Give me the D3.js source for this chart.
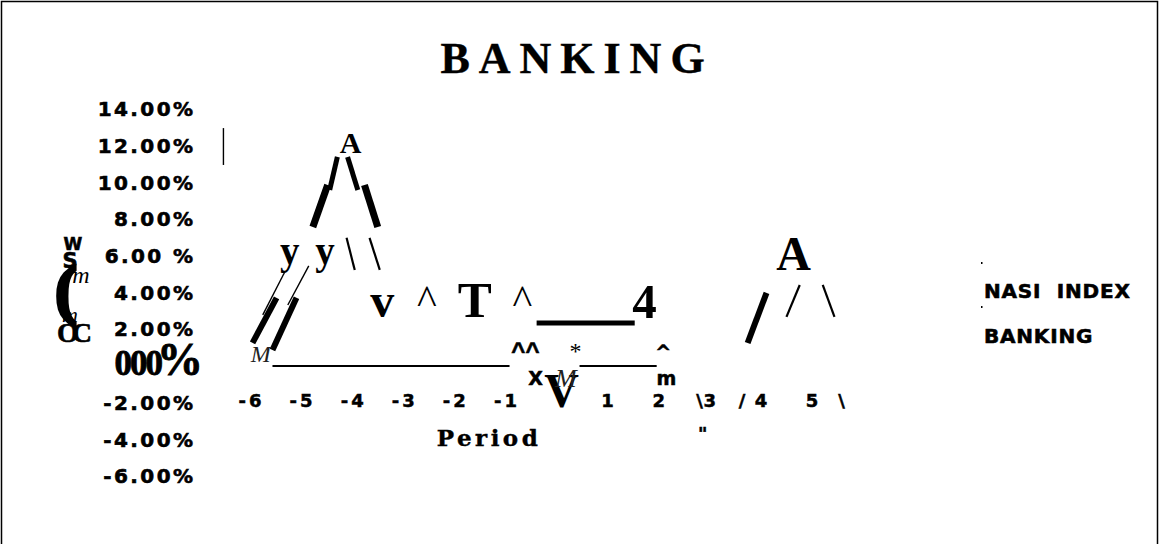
<!DOCTYPE html>
<html><head><meta charset="utf-8">
<script src="https://cdn.jsdelivr.net/npm/d3@7"></script>
<style>body{margin:0;background:#fff} svg{display:block}</style>
</head><body><svg id="c" width="1159" height="544"></svg>
<script>
// ---------- data ----------
const title = "BANKING";
const xTitle = "Period";
const yTickValues = [14, 12, 10, 8, 6, 4, 2, 0, -2, -4, -6];
const yTickLabels = ["14.00%", "12.00%", "10.00%", "8.00%", "6.00 %", "4.00%", "2.00%", "000%", "-2.00%", "-4.00%", "-6.00%"];
const xTickValues = [-6, -5, -4, -3, -2, -1, 1, 2, 3, 4, 5];
const xTickLabels = ["-6", "-5", "-4", "-3", "-2", "-1", "1", "2", "3", "4", "5"];
const legendLabels = ["NASI INDEX", "BANKING"];
// zero-line pieces (period from, period to), value 0%
const zeroFrom = [-5.56, 0.45];
const zeroTo = [-0.92, 1.96];
// stroke pieces of the (garbled) series: period/value pairs
const segP1 = [-4.29, -4.09, -4.48, -3.76, -4.11, -3.66, -5.32, -5.48, -4.85, -5.09, 4.11, 4.76, 5.21, -0.39, -6.52];
const segV1 = [11.39, 11.39, 9.86, 9.86, 6.98, 6.98, 5.12, 3.71, 5.45, 3.71, 3.98, 4.41, 4.41, 2.34, 12.96];
const segP2 = [-4.44, -3.89, -4.77, -3.50, -3.95, -3.46, -5.75, -5.95, -5.26, -5.56, 3.74, 4.50, 5.44, 1.53, -6.52];
const segV2 = [9.59, 9.59, 7.57, 7.57, 5.23, 5.23, 2.78, 1.25, 3.32, 0.87, 1.25, 2.67, 2.67, 2.34, 10.95];
const segKind = ["t5", "t5", "t7", "t7", "n2", "n2", "n1", "t6", "n1", "t6", "t6", "n2", "n2", "t5", "n1"];
// glyph marks of the series: text, period, value
const glyphText = ["A", "y y", "v", "^", "T", "^", "4", "^^", "*", "^", "X", "m", "V", "M", "M", "A", "\\", "/", "\\", "\""];
const glyphP = [-4.03, -4.85, -3.41, -2.54, -1.60, -0.67, 1.72, -0.61, 0.37, 2.09, -0.41, 2.15, 0.10, 0.18, -5.79, 4.64, 2.80, 3.63, 5.58, 2.86];
const glyphV = [11.61, 5.56, 2.67, 2.83, 2.67, 2.83, 2.62, 0.38, 0.38, 0.38, -1.04, -1.04, -2.23, -1.14, 0.22, 5.23, -2.23, -2.23, -2.23, -4.03];
const glyphKind = ["sb28", "sb38", "sb48", "s40", "sb51", "s40", "sb49", "ab22", "s24", "ab20", "ab20", "ab20", "sb48", "si26", "si24", "sb48", "ab18", "ab18", "ab18", "ab18"];
// y-axis title fragments (garbled)
const yTitleText = ["W", "S", "m", "(", "m", "OC"];

// ---------- styles ----------
const SERIF = "'Liberation Serif', 'Times New Roman', serif";
const SANS = "'DejaVu Sans', 'Liberation Sans', Arial, sans-serif";
const glyphStyle = {
  sb28: {f: SERIF, s: 30, w: 700}, sb38: {f: SERIF, s: 39, w: 700, ls: 3},
  sb48: {f: SERIF, s: 48, w: 700}, sb49: {f: SERIF, s: 49, w: 700}, sb51: {f: SERIF, s: 51, w: 700},
  s40: {f: SERIF, s: 42, w: 400}, s24: {f: SERIF, s: 24, w: 400},
  si26: {f: SERIF, s: 26, w: 400, i: 1, c: "#222"}, si24: {f: SERIF, s: 24, w: 400, i: 1, c: "#222"},
  ab22: {f: "'Liberation Sans', Arial, sans-serif", s: 24, w: 700, k: 0.6},
  ab20: {f: SANS, s: 19, w: 700, k: 0.5}, ab18: {f: SANS, s: 18, w: 700, k: 0.5}
};
const segStyle = {t5: 5, t6: 6, t7: 7, n2: 2.2, n1: 1.4};

// ---------- chart ----------
const svg = d3.select("#c");
const x = d3.scaleLinear().domain([-6, 5]).range([250, 812]);
const y = d3.scaleLinear().domain([-6, 14]).range([476, 109]);
const yAxisRight = 193;
const yLabelSpacing = 2.4;

// frame
svg.append("path").attr("d", "M1.5,544V1.5H1157.5V544")
  .attr("fill", "none").attr("stroke", "#000").attr("stroke-width", 1.5);

// title
svg.append("text").attr("x", 577).attr("y", 73).attr("text-anchor", "middle")
  .attr("font-family", SERIF).attr("font-weight", 700).attr("font-size", 44)
  .attr("letter-spacing", 9).attr("stroke", "#000").attr("stroke-width", 0.4).text(title);

// y tick labels
const yl = svg.append("g");
yTickValues.forEach((v, i) => {
  if (v === 0) {
    const t = yl.append("text").attr("x", yAxisRight + 10).attr("y", y(v) + 9)
      .attr("text-anchor", "end").attr("font-family", SERIF).attr("font-weight", 700)
      .attr("stroke", "#000").attr("stroke-width", 0.8);
    t.append("tspan").attr("font-size", 35).attr("letter-spacing", -2).text(yTickLabels[i].slice(0, 3));
    t.append("tspan").attr("font-size", 46).attr("dx", -4).text(yTickLabels[i].slice(3));
  } else {
    yl.append("text").attr("x", yAxisRight + yLabelSpacing).attr("y", y(v)).attr("dy", "0.36em")
      .attr("text-anchor", "end").attr("font-family", SANS).attr("font-weight", 700)
      .attr("font-size", 20).attr("letter-spacing", yLabelSpacing)
      .attr("stroke", "#000").attr("stroke-width", 0.6).text(yTickLabels[i]);
  }
});

// x tick labels
const xl = svg.append("g");
xTickValues.forEach((p, i) => {
  xl.append("text").attr("x", x(p) + 1.5).attr("y", y(-2.23)).attr("text-anchor", "middle")
    .attr("font-family", SANS).attr("font-weight", 700).attr("font-size", 18)
    .attr("letter-spacing", 3).attr("stroke", "#000").attr("stroke-width", 0.5).text(xTickLabels[i]);
});

// x title
svg.append("text").attr("x", 489).attr("y", 446).attr("text-anchor", "middle")
  .attr("font-family", "'DejaVu Serif', serif").attr("font-weight", 700).attr("font-size", 23)
  .attr("letter-spacing", 3.5).attr("stroke", "#000").attr("stroke-width", 0.4).text(xTitle);

// y title fragments
const ytSpec = [
  {x: 73, y: 250, f: SANS, s: 17, w: 700, k: 0.6},
  {x: 70, y: 268, f: SANS, s: 21, w: 700, k: 0.6},
  {x: 81, y: 283, f: SERIF, s: 24, w: 400, i: 1},
  {x: 66, y: 312, f: SERIF, s: 66, w: 700, k: 3.5},
  {x: 70, y: 322, f: SERIF, s: 22, w: 400, i: 1},
  {x: 71, y: 342, f: SERIF, s: 28, w: 700, ls: -7, k: 0.6}
];
yTitleText.forEach((t, i) => {
  const s = ytSpec[i];
  svg.append("text").attr("x", s.x).attr("y", s.y).attr("text-anchor", "middle")
    .attr("font-family", s.f).attr("font-size", s.s).attr("font-weight", s.w)
    .attr("font-style", s.i ? "italic" : "normal").attr("letter-spacing", s.ls || 0)
    .attr("stroke", s.k ? "#000" : "none").attr("stroke-width", s.k || 0).text(t);
});

// zero line
const zg = svg.append("g");
zeroFrom.forEach((p, i) => {
  zg.append("line").attr("x1", x(p)).attr("x2", x(zeroTo[i])).attr("y1", y(0)).attr("y2", y(0))
    .attr("stroke", "#000").attr("stroke-width", 2);
});

// series strokes
const sg = svg.append("g");
segP1.forEach((p, i) => {
  sg.append("line").attr("x1", x(p)).attr("y1", y(segV1[i]))
    .attr("x2", x(segP2[i])).attr("y2", y(segV2[i]))
    .attr("stroke", "#000").attr("stroke-width", segStyle[segKind[i]]);
});

// series glyphs
const gg = svg.append("g");
glyphText.forEach((t, i) => {
  const s = glyphStyle[glyphKind[i]];
  gg.append("text").attr("x", x(glyphP[i])).attr("y", y(glyphV[i])).attr("text-anchor", "middle")
    .attr("font-family", s.f).attr("font-size", s.s).attr("font-weight", s.w)
    .attr("font-style", s.i ? "italic" : "normal").attr("letter-spacing", s.ls || 0)
    .attr("stroke", s.k ? "#000" : "none").attr("stroke-width", s.k || 0)
    .attr("fill", s.c || "#000").text(t);
});

// legend
const lg = svg.append("g");
legendLabels.forEach((t, i) => {
  lg.append("rect").attr("x", 981).attr("y", 262 + i * 44).attr("width", 1.5).attr("height", 2).attr("fill", "#000");
  lg.append("text").attr("x", 984).attr("y", 298 + i * 45)
    .attr("font-family", SANS).attr("font-weight", 700).attr("font-size", 20)
    .attr("letter-spacing", 0.8).attr("stroke", "#000").attr("stroke-width", 0.6)
    .style("white-space", "pre").text(t.replace(" ", "  "));
});
</script></body></html>
